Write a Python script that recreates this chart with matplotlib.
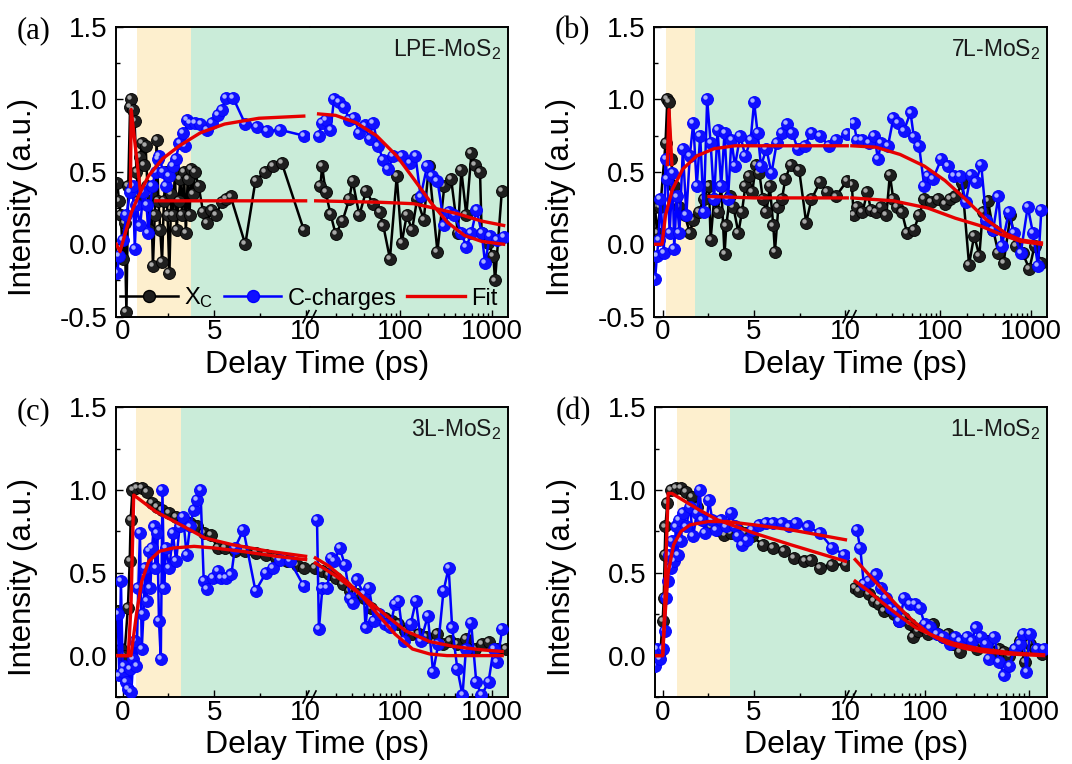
import numpy as np
import matplotlib
matplotlib.use('Agg')
import matplotlib.pyplot as plt
import matplotlib.transforms as mtransforms
from matplotlib.lines import Line2D
from matplotlib.ticker import (FixedLocator, MultipleLocator, LogLocator,
                               NullFormatter, FormatStrFormatter)

plt.rcParams['font.family'] = ['Liberation Sans', 'DejaVu Sans']
plt.rcParams['mathtext.default'] = 'regular'
plt.rcParams['axes.unicode_minus'] = False

nan = np.nan

# ---------------- data (delay time in ps, normalized intensity) ----------------
# (a) LPE-MoS2
A_XC_T = [-0.3, -0.2, -0.1, 0.0, 0.1, 0.2, 0.3, 0.4, 0.47, 0.55, 0.65, 0.75, 0.85, 0.95,
          1.05, 1.15, 1.25, 1.35, 1.45, 1.55, 1.65, 1.75, 1.85, 1.95, 2.05, 2.15, 2.25,
          2.35, 2.45, 2.55, 2.65, 2.75, 2.85, 2.95, 3.05, 3.15, 3.25, 3.35, 3.45, 3.55,
          3.65, 3.75, 3.85, 3.95, 4.15, 4.4, 4.6, 4.85, 5.1, 5.4, 5.66, 5.9, 6.7, 7.26,
          7.8, 8.2, 8.7, 9.9,
          13.5, 14.1, 15.4, 17.4, 19.8, 23.5, 27.8, 30.3, 35.9, 42.6, 50.6, 59.9, 65.4,
          77.4, 91.8, 104, 118, 135, 153, 181, 206, 255, 303, 360, 426, 465, 527, 599,
          654, 743, 774, 916, 1038, 1084, 1286]
A_XC_I = [0.42, 0.3, 0.2, -0.1, 0.15, -0.47, 0.4, 0.95, 1.0, 0.93, 0.85, 0.5, 0.3, 0.6,
          0.7, 0.55, 0.68, 0.4, 0.1, 0.35, -0.15, 0.2, 0.72, 0.3, 0.1, -0.12, 0.3,
          0.5, 0.2, -0.2, 0.35, 0.2, 0.5, 0.1, 0.3, 0.45, 0.2, 0.5, 0.08, 0.45,
          0.2, 0.52, 0.35, 0.5, 0.4, 0.22, 0.15, 0.24, 0.2, 0.29, 0.31, 0.33, 0.0, 0.44,
          0.5, 0.54, 0.56, 0.1,
          0.4, 0.54, 0.36, 0.21, 0.07, 0.16, 0.31, 0.44, 0.2, 0.37, 0.28, 0.22, 0.13,
          -0.1, 0.47, 0.01, 0.2, 0.1, 0.31, 0.17, 0.54, -0.05, 0.4, 0.45, 0.08, 0.51, 0.2, 0.63,
          0.55, 0.5, 0.08, 0.01, -0.08, -0.25, 0.37]
A_CH_T = [-0.3, -0.2, 0.0, 0.2, 0.4, 0.55, 0.66, 0.75, 0.95, 1.13, 1.3, 1.4, 1.6, 1.8,
          1.9, 2.0, 2.2, 2.36, 2.55, 2.74, 2.9, 3.1, 3.3, 3.4, 3.5, 3.7, 3.96, 4.25, 4.6,
          4.9, 5.2, 5.4, 5.66, 6.04, 6.7, 7.36, 7.9, 8.6, 9.9,
          12.9, 14.1, 15.4, 17.4, 19, 21.6, 24.5, 27.8, 31.6, 35.9, 40.9, 46.4, 50.6, 57.5,
          65.4, 74.2, 84.4, 104, 129, 147, 167, 197, 224, 255, 303, 344, 391, 465, 527,
          599, 680, 774, 843, 955, 1132, 1345]
A_CH_I = [-0.2, -0.08, 0.03, 0.2, 0.36, 0.4, -0.03, 0.27, 0.13, 0.36, 0.27, 0.08, 0.4, 0.5,
          0.59, 0.61, 0.5, 0.4, 0.47, 0.54, 0.59, 0.7, 0.77, 0.68, 0.86, 0.84, 0.84, 0.83, 0.79,
          0.84, 0.89, 0.93, 1.01, 1.01, 0.83, 0.81, 0.78, 0.79, 0.75,
          0.75, 0.84, 0.86, 0.79, 1.0, 0.98, 0.95, 0.86, 0.87, 0.77, 0.82, 0.73, 0.84, 0.68,
          0.58, 0.52, 0.61, 0.61, 0.56, 0.61, 0.33, 0.54, 0.47, 0.44, 0.13, 0.22, 0.2, 0.08, -0.02,
          0.08, 0.24, 0.08, -0.13, 0.06, 0.03, 0.05]
A_FXC_T = [0.42, 0.46, 0.95, nan, 1.8, 5.0, 10.0, 12.0, 60, 141, 233, 426, 774, 1345]
A_FXC_I = [0.4, 0.93, 0.38, nan, 0.3, 0.3, 0.3, 0.3, 0.29, 0.28, 0.25, 0.21, 0.16, 0.13]
A_FCH_T = [-0.35, -0.15, 0.1, 0.47, 0.85, 1.4, 2.17, 3.1, 4.25, 5.57, 7.45, 9.9,
           12.9, 19.8, 32.9, 55.2, 91.8, 141, 215, 330, 505, 774, 1345]
A_FCH_I = [0.0, -0.05, 0.06, 0.22, 0.33, 0.47, 0.59, 0.68, 0.77, 0.83, 0.87, 0.885,
           0.9, 0.89, 0.84, 0.75, 0.61, 0.45, 0.29, 0.15, 0.06, 0.02, 0.0]

# (b) 7L-MoS2
B_XC_T = [-0.42, -0.32, -0.13, 0.15, 0.25, 0.34, 0.44, 0.63, 0.91, 1.2, 1.48, 1.67, 1.96,
          2.24, 2.53, 2.62, 2.81, 3.0, 3.2, 3.38, 3.48, 3.67, 3.86, 4.14, 4.33, 4.52, 4.71,
          4.9, 5.1, 5.29, 5.48, 5.67, 5.86, 6.05, 6.14, 6.33, 6.52, 6.71, 7.0, 7.47, 7.85,
          8.14, 8.61, 8.99, 9.47, 10.1,
          10.9, 11.4, 12.4, 14.2, 16.1, 17.6, 20, 22.8, 26, 28.4, 31, 33.8, 38.5, 43.8, 52,
          59.3, 67.6, 80.5, 95.7, 114, 130, 148, 176, 209, 238, 271, 295, 337, 384, 438,
          499, 594, 676, 805, 957, 1090, 1295]
B_XC_I = [0.26, 0.08, 0.26, 0.7, 1.0, 0.98, 0.59, 0.4, 0.26, 0.2, 0.08, 0.17, 0.22,
          0.31, 0.4, 0.03, 0.31, 0.22, 0.4, -0.07, 0.13, 0.33, 0.26, 0.08, 0.22, 0.4, 0.47,
          0.36, 0.55, 0.49, 0.31, 0.22, 0.4, 0.13, -0.05, 0.26, 0.31, 0.45, 0.55, 0.51, 0.15,
          0.31, 0.43, 0.36, 0.33, 0.44,
          0.41, 0.2, 0.26, 0.22, 0.36, 0.24, 0.22, 0.26, 0.2, 0.48, 0.31, 0.26, 0.22, 0.08, 0.1,
          0.2, 0.31, 0.29, 0.31, 0.28, 0.31, 0.33, 0.42, -0.14, 0.06, -0.08, 0.22, 0.3, 0.1, -0.06,
          -0.13, 0.2, -0.01, -0.06, -0.17, -0.01, -0.13]
B_CH_T = [-0.42, -0.32, -0.23, -0.13, 0.06, 0.15, 0.25, 0.38, 0.53, 0.63, 0.76, 0.91, 1.1,
          1.29, 1.48, 1.67, 1.86, 2.05, 2.24, 2.43, 2.62, 2.81, 3.0, 3.2, 3.38, 3.57, 3.76,
          3.95, 4.24, 4.52, 4.81, 5.0, 5.19, 5.38, 5.67, 5.95, 6.24, 6.52, 6.81, 7.09, 7.38,
          7.76, 8.14, 8.61, 9.09, 9.47, 10.1,
          11.4, 12.4, 14.2, 16.8, 19.2, 21, 22.8, 27.1, 31, 35.2, 40.2, 47.8, 52, 59.3, 67.6,
          73.9, 84, 104, 124, 142, 168, 192, 219, 249, 284, 323, 384, 438, 478, 569, 648,
          770, 918, 1045, 1190, 1295]
B_CH_I = [-0.24, -0.08, 0.03, 0.31, -0.06, 0.59, 0.45, 0.08, 0.49, -0.03, 0.33, 0.08, 0.66,
          0.2, 0.61, 0.84, 0.4, 0.75, 0.22, 1.0, 0.7, 0.31, 0.79, 0.4, 0.77, 0.31, 0.72,
          0.54, 0.75, 0.61, 0.72, 0.98, 0.77, 0.54, 0.66, 0.49, 0.7, 0.77, 0.83, 0.77, 0.66,
          0.68, 0.77, 0.75, 0.68, 0.72, 0.76,
          0.84, 0.72, 0.72, 0.7, 0.75, 0.59, 0.7, 0.68, 0.87, 0.84, 0.78, 0.91, 0.74, 0.68, 0.4,
          0.47, 0.45, 0.59, 0.54, 0.47, 0.47, 0.29, 0.48, 0.43, 0.55, 0.17, 0.1, 0.33, -0.01, 0.22, 0.08,
          -0.06, 0.26, 0.08, -0.15, 0.24]
B_FXC_T = [0.25, 0.34, 0.5, nan, 2.53, 5.0, 10.1, 10.9, 31, 73.9, 148, 271, 458, 770, 1295]
B_FXC_I = [0.55, 0.93, 0.55, nan, 0.33, 0.32, 0.32, 0.32, 0.3, 0.25, 0.18, 0.13, 0.07, 0.02, 0.0]
B_FCH_T = [-0.48, -0.04, 0.15, 0.53, 1.1, 1.86, 2.81, 3.95, 5.29, 10.1,
           10.9, 20, 36.8, 67.6, 114, 192, 323, 544, 770, 1295]
B_FCH_I = [0.0, 0.0, 0.2, 0.38, 0.52, 0.61, 0.66, 0.68, 0.68, 0.68,
           0.68, 0.67, 0.62, 0.54, 0.44, 0.31, 0.17, 0.07, 0.03, 0.01]

# (c) 3L-MoS2
C_XC_T = [-0.28, -0.1, 0.09, 0.28, 0.38, 0.43, 0.53, 0.75, 1.04, 1.32, 1.6, 1.89, 2.17,
          2.55, 2.92, 3.3, 3.68, 4.06, 4.43, 4.81, 5.19, 5.57, 6.13, 6.7, 7.26, 7.83, 8.4,
          8.96, 9.53, 9.9,
          11.9, 14.2, 16.8, 20, 23.8, 28.4, 33.7, 40.1, 47.8, 56.9, 67.7, 80.5, 95.7, 114,
          136, 161, 192, 249, 296, 352, 419, 520, 648, 770, 916, 1137, 1412]
C_XC_I = [0.27, 0.04, 0.0, 0.29, 0.57, 0.82, 1.0, 1.01, 1.01, 0.99, 0.92, 0.9, 0.88,
          0.86, 0.84, 0.82, 0.8, 0.78, 0.74, 0.73, 0.65, 0.65, 0.63, 0.63, 0.62, 0.61, 0.59,
          0.57, 0.55, 0.53,
          0.53, 0.51, 0.49, 0.47, 0.43, 0.39, 0.37, 0.35, 0.29, 0.25, 0.23, 0.21, 0.19, 0.15,
          0.13, 0.13, 0.11, 0.13, 0.07, 0.09, 0.07, 0.1, 0.04, 0.07, 0.08, 0.04, 0.04]
C_CH_T = [-0.28, -0.19, -0.1, 0.0, 0.09, 0.19, 0.28, 0.38, 0.47, 0.57, 0.66, 0.75, 0.85,
          0.94, 1.04, 1.13, 1.23, 1.32, 1.42, 1.51, 1.6, 1.7, 1.79, 1.89, 1.98, 2.08, 2.17,
          2.26, 2.36, 2.55, 2.74, 2.92, 3.11, 3.3, 3.49, 3.68, 3.87, 4.06, 4.25, 4.43, 4.62,
          4.91, 5.19, 5.38, 5.66, 5.94, 6.13, 6.6, 7.26, 7.83, 8.2, 8.58, 9.15, 9.9,
          12.4, 13, 14.2, 16.1, 17.6, 19.2, 21.9, 24.9, 28.4, 30.9, 33.7, 40.1, 41.9, 45.7,
          52, 59.3, 67.7, 77.1, 87.8, 95.7, 109, 130, 148, 168, 200, 228, 260, 296, 337,
          368, 419, 477, 520, 592, 674, 768, 916, 1042, 1137, 1292]
C_CH_I = [0.25, -0.12, 0.45, -0.1, -0.06, -0.16, -0.2, -0.08, -0.22, -0.02, 0.09, -0.06, 0.41,
          0.74, 0.04, 0.25, 0.53, 0.33, 0.63, 0.41, 0.65, 0.78, 0.53, 0.74, 0.21, -0.02, 1.0,
          0.41, 0.65, 0.53, 0.74, 0.57, 0.78, 0.84, 0.61, 0.78, 0.88, 0.94, 1.0, 0.45, 0.4,
          0.47, 0.51, 0.47, 0.47, 0.49, 0.65, 0.76, 0.39, 0.5, 0.53, 0.58, 0.57, 0.42,
          0.82, 0.16, 0.41, 0.41, 0.59, 0.57, 0.65, 0.55, 0.35, 0.32, 0.46, 0.37, 0.17, 0.41,
          0.21, 0.25, 0.19, 0.17, 0.31, 0.33, 0.09, 0.19, 0.33, 0.09, 0.24, -0.1, 0.07, 0.39, 0.53,
          0.17, -0.08, -0.24, 0.04, 0.2, -0.16, -0.24, -0.16, 0.04, -0.04, 0.16]
C_FXC_T = [-0.37, 0.3, 0.45, 0.6, 1.2, 1.8, 3.0, 4.5, 6.0, 8.0, 10.0,
           11.9, 20, 36.8, 67.7, 114, 209, 384, 768, 1292]
C_FXC_I = [0.0, 0.0, 0.3, 0.97, 0.92, 0.87, 0.8, 0.71, 0.67, 0.63, 0.6,
           0.56, 0.48, 0.37, 0.25, 0.15, 0.085, 0.055, 0.035, 0.025]
C_FCH_T = [-0.37, 0.45, 0.75, 1.04, 1.42, 2.0, 2.75, 3.9, 5.0, 6.5, 8.4, 10.0,
           11.9, 16.8, 23.8, 36.8, 56.9, 87.8, 136, 209, 323, 1292]
C_FCH_I = [0.0, 0.0, 0.25, 0.45, 0.57, 0.63, 0.65, 0.66, 0.65, 0.63, 0.6, 0.58,
           0.59, 0.54, 0.47, 0.37, 0.25, 0.13, 0.04, 0.01, 0.0, 0.0]

# (d) 1L-MoS2
D_XC_T = [-0.42, -0.13, 0.0, 0.06, 0.11, 0.15, 0.25, 0.44, 0.72, 1.0, 1.29, 1.58, 1.86,
          2.24, 2.62, 3.0, 3.38, 3.76, 4.14, 4.52, 4.9, 5.48, 6.05, 6.62, 7.19, 7.76, 8.14,
          8.61, 9.28, 10.04,
          21.1, 22.8, 25.6, 28.5, 32, 35.8, 40.1, 44.9, 50.3, 56.3, 63.1, 70.7, 76.2, 85.4,
          95.6, 107, 120, 134, 150, 168, 188, 219, 245, 275, 320, 358, 401, 466, 521, 584,
          654, 732, 820, 918, 1028, 1152, 1339]
D_XC_I = [0.0, 0.02, 0.21, 0.35, 0.61, 0.78, 0.92, 1.0, 1.01, 1.01, 0.99, 0.96, 0.9,
          0.82, 0.78, 0.76, 0.73, 0.74, 0.76, 0.74, 0.72, 0.67, 0.65, 0.63, 0.59, 0.57, 0.58,
          0.53, 0.55, 0.55,
          0.41, 0.39, 0.43, 0.37, 0.33, 0.31, 0.27, 0.29, 0.25, 0.21, 0.23, 0.19, 0.11, 0.15,
          0.17, 0.13, 0.19, 0.13, 0.11, 0.13, 0.07, 0.02, 0.09, 0.07, 0.04, 0.07, 0.09, 0.02,
          0.04, 0.02, 0.0, 0.04, 0.09, -0.04, 0.07, 0.04, 0.01]
D_CH_T = [-0.42, -0.32, -0.13, 0.0, 0.11, 0.19, 0.27, 0.34, 0.44, 0.53, 0.63, 0.72, 0.82,
          0.91, 1.0, 1.1, 1.29, 1.48, 1.67, 1.86, 2.02, 2.15, 2.34, 2.53, 2.72, 2.91, 3.19,
          3.48, 3.76, 3.95, 4.14, 4.33, 4.62, 4.9, 5.29, 5.67, 6.05, 6.52, 6.9, 7.28, 7.95,
          8.61, 9.28, 9.94,
          21.9, 23.6, 25.6, 28.5, 33.2, 37.2, 41.7, 46.7, 52.3, 56.3, 63.1, 70.7, 79.2, 88.6,
          99.2, 111, 129, 150, 174, 196, 219, 255, 285, 307, 345, 386, 417, 466, 521, 584,
          654, 732, 820, 884, 954, 1028, 1199, 1395]
D_CH_I = [-0.06, 0.04, -0.02, 0.04, 0.15, 0.35, 0.45, 0.61, 0.53, 0.69, 0.57, 0.78, 0.61,
          0.82, 0.69, 0.86, 0.78, 0.9, 0.72, 0.86, 1.0, 0.82, 0.74, 0.94, 0.82, 0.76, 0.82,
          0.78, 0.86, 0.78, 0.72, 0.67, 0.7, 0.76, 0.79, 0.8, 0.8, 0.8, 0.78, 0.8, 0.78,
          0.74, 0.65, 0.61,
          0.76, 0.65, 0.43, 0.45, 0.49, 0.41, 0.35, 0.29, 0.27, 0.21, 0.35, 0.31, 0.31, 0.29,
          0.19, 0.17, 0.13, 0.11, 0.07, 0.11, 0.09, 0.11, 0.09, 0.17, 0.11, 0.07, -0.02, 0.11,
          -0.04, -0.12, -0.06, 0.04, 0.07, 0.13, -0.1, 0.13, 0.04, 0.04]
D_FXC_T = [-0.42, 0.0, 0.1, 0.2, 0.3, 0.5, 1.1, 2.0, 3.0, 4.0, 5.0, 7.0, 10.0,
           21.1, 28.5, 38.6, 56.3, 80.6, 120, 188, 345, 732, 1395]
D_FXC_I = [0.0, 0.0, 0.25, 0.65, 0.98, 0.98, 0.94, 0.88, 0.82, 0.78, 0.74, 0.67, 0.57,
           0.45, 0.39, 0.32, 0.24, 0.17, 0.12, 0.075, 0.04, 0.015, 0.005]
D_FCH_T = [-0.42, 0.0, 0.1, 0.3, 0.6, 1.0, 1.5, 2.5, 3.5, 5.0, 7.0, 10.0,
           21.1, 28.5, 38.6, 52.3, 76.2, 111, 162, 236, 345, 630, 1395]
D_FCH_I = [0.0, 0.0, 0.2, 0.5, 0.67, 0.75, 0.79, 0.81, 0.81, 0.79, 0.76, 0.7,
           0.58, 0.49, 0.4, 0.31, 0.21, 0.13, 0.075, 0.045, 0.025, 0.01, 0.0]

NAMES = ['LPE-MoS$_2$', '7L-MoS$_2$', '3L-MoS$_2$', '1L-MoS$_2$']
LETTERS = ['(a)', '(b)', '(c)', '(d)']
SHADES = [(0.77, 3.72), (0.18, 1.77), (0.71, 3.2), (0.8, 3.68)]

# ---------------- layout (pixels) ----------------
W, H = 1072, 764
ORANGE = '#fdefce'
GREEN = '#caecd9'
BLUE = '#0000ff'
RED = '#e60000'

# x0, break, x1, top, bottom, lin xlim, log xlim, ylim
LAYOUT = [
    (116, 310, 508, 27, 316.7, (-0.37, 10.24), (10.4, 1500), (-0.5, 1.5)),
    (654, 850, 1047, 27, 316.7, (-0.48, 10.25), (10.4, 1492), (-0.5, 1.5)),
    (116, 310, 508, 407.3, 697, (-0.37, 10.24), (10.4, 1494), (-0.25, 1.5)),
    (655, 850, 1047, 407.3, 697, (-0.42, 10.25), (18.8, 1507), (-0.25, 1.5)),
]

MS = 8.6

fig = plt.figure(figsize=(W / 100, H / 100), dpi=100)


def fx(px):
    return px / W


def fy(py):
    return 1 - py / H


def balls(ax, t, y, color, face, hl, z):
    ax.plot(t, y, color=color, lw=1.8, marker='o', ms=MS, mfc=face, mec=color,
            mew=0.6, zorder=z)
    tr = mtransforms.offset_copy(ax.transData, fig=fig, x=-1.4, y=1.4, units='points')
    ax.plot(t, y, ls='none', marker='o', ms=3.2, mfc=hl, mec='none', zorder=z + 0.1,
            transform=tr)


def split(t, y, brk):
    t = np.asarray(t, float)
    y = np.asarray(y, float)
    lin = (t <= brk) | np.isnan(t)
    log = t > brk
    return (t[lin], y[lin]), (t[log], y[log])


DATA = [
    (A_XC_T, A_XC_I, A_CH_T, A_CH_I, A_FXC_T, A_FXC_I, A_FCH_T, A_FCH_I),
    (B_XC_T, B_XC_I, B_CH_T, B_CH_I, B_FXC_T, B_FXC_I, B_FCH_T, B_FCH_I),
    (C_XC_T, C_XC_I, C_CH_T, C_CH_I, C_FXC_T, C_FXC_I, C_FCH_T, C_FCH_I),
    (D_XC_T, D_XC_I, D_CH_T, D_CH_I, D_FXC_T, D_FXC_I, D_FCH_T, D_FCH_I),
]

for i, (x0, bx, x1, top, bot, linlim, loglim, ylim) in enumerate(LAYOUT):
    axL = fig.add_axes([fx(x0), fy(bot), fx(bx - x0), (bot - top) / H])
    axR = fig.add_axes([fx(bx), fy(bot), fx(x1 - bx), (bot - top) / H])
    axR.set_xscale('log')
    axL.set_xlim(*linlim)
    axR.set_xlim(*loglim)
    for ax in (axL, axR):
        ax.set_ylim(*ylim)
        for s in ax.spines.values():
            s.set_linewidth(1.4)
    axL.spines['right'].set_visible(False)
    axR.spines['left'].set_visible(False)

    # shaded regions
    s0, s1 = SHADES[i]
    axL.axvspan(s0, s1, color=ORANGE, lw=0, zorder=0)
    axL.axvspan(s1, linlim[1], color=GREEN, lw=0, zorder=0)
    axR.axvspan(loglim[0], loglim[1], color=GREEN, lw=0, zorder=0)

    # ticks
    axL.xaxis.set_major_locator(FixedLocator([0, 5, 10]))
    axL.xaxis.set_minor_locator(FixedLocator([2.5, 7.5]))
    axL.yaxis.set_major_locator(MultipleLocator(0.5))
    axL.yaxis.set_minor_locator(MultipleLocator(0.25))
    axL.yaxis.set_major_formatter(FormatStrFormatter('%.1f'))
    axR.xaxis.set_major_locator(LogLocator(base=10))
    axR.xaxis.set_minor_locator(LogLocator(base=10, subs=np.arange(2, 10)))
    axR.xaxis.set_major_formatter(FormatStrFormatter('%d'))
    axR.xaxis.set_minor_formatter(NullFormatter())
    for ax in (axL, axR):
        ax.tick_params(which='both', direction='in', top=False, right=False, width=1.0,
                       labelsize=20)
        ax.tick_params(which='major', length=5)
        ax.tick_params(which='minor', length=2.8)
        ax.tick_params(axis='x', pad=2)
        ax.tick_params(axis='y', pad=6)
    axR.tick_params(axis='y', which='both', left=False, labelleft=False)

    xt, xi, ct, ci, fxt, fxi, fct, fci = DATA[i]
    for ax, part in ((axL, 0), (axR, 1)):
        t, y = split(xt, xi, linlim[1])[part]
        balls(ax, t, y, 'black', '#1e1e1e', '#a8a8a8', 2)
        t, y = split(ct, ci, linlim[1])[part]
        balls(ax, t, y, BLUE, '#1010ff', '#a8b0ff', 3)
        t, y = split(fxt, fxi, linlim[1])[part]
        ax.plot(t, y, color=RED, lw=2.4, zorder=5)
        t, y = split(fct, fci, linlim[1])[part]
        ax.plot(t, y, color=RED, lw=2.4, zorder=5)

    # axis break marks
    for dx in (-4, 3):
        fig.add_artist(Line2D([fx(bx + dx - 3), fx(bx + dx + 3)],
                              [fy(bot + 6), fy(bot - 6)], color='black', lw=1.2))

    # labels
    axR.text(fx(x1 - 7), fy(top + 29), NAMES[i], transform=fig.transFigure,
             ha='right', va='baseline', fontsize=16.5, color='#1a1a1a')
    fig.text(fx(x0 - 99), fy(top + 4), LETTERS[i], family=['Liberation Serif'],
             fontsize=22, ha='left', va='center')
    fig.text(fx(x0 - 93), fy(top + 170), 'Intensity (a.u.)', rotation=90,
             ha='center', va='center', fontsize=22.5)
    fig.text(fx((x0 + x1) / 2 + 5), fy(bot + 56), 'Delay Time (ps)',
             ha='center', va='baseline', fontsize=23)

    if i == 0:
        handles = [
            Line2D([], [], color='black', lw=1.8, marker='o', ms=MS, mfc='#1e1e1e'),
            Line2D([], [], color=BLUE, lw=1.8, marker='o', ms=MS, mfc='#1010ff'),
            Line2D([], [], color=RED, lw=2.4),
        ]
        leg = axR.legend(handles, ['X$_C$', 'C-charges', 'Fit'], ncol=3, frameon=False,
                         loc='center left', bbox_to_anchor=(fx(120), fy(298)),
                         bbox_transform=fig.transFigure, fontsize=17, handlelength=2.45,
                         handletextpad=0.25, columnspacing=0.45, borderpad=0,
                         borderaxespad=0)
        leg.set_zorder(10)

fig.savefig('out.png', dpi=100)
